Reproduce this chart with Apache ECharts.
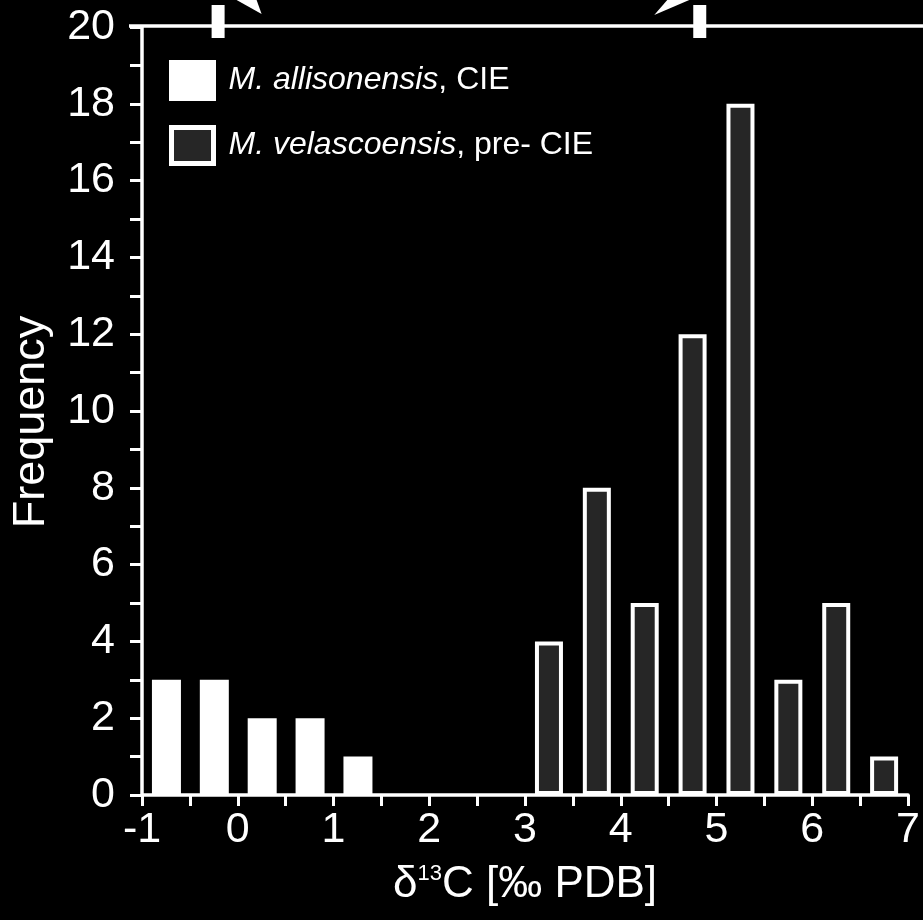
<!DOCTYPE html>
<html>
<head>
<meta charset="utf-8">
<script src="https://cdn.jsdelivr.net/npm/echarts@6/dist/echarts.min.js"></script>
<style>
html,body{margin:0;padding:0;background:#000;}
#main{width:923px;height:920px;}
</style>
</head>
<body>
<div id="main"></div>
<script>
// Data
const allisonX = [-0.75, -0.25, 0.25, 0.75, 1.25];
const allisonFreq = [3, 3, 2, 2, 1];
const velasX = [3.25, 3.75, 4.25, 4.75, 5.25, 5.75, 6.25, 6.75];
const velasFreq = [4, 8, 5, 12, 18, 3, 5, 1];
const seriesNames = ['M. allisonensis, CIE', 'M. velascoensis, pre- CIE'];
const legendItalic = ['M. allisonensis', 'M. velascoensis'];
const legendRest = [', CIE', ', pre- CIE'];
const markerX = [-0.2, 4.83];
const xMin = -1, xMax = 7, yMin = 0, yMax = 20;

const FONT = 'Liberation Sans, Arial, sans-serif';
const chart = echarts.init(document.getElementById('main'), null, {renderer: 'canvas'});

const option = {
  backgroundColor: '#000',
  animation: false,
  grid: {left: 142, right: 14, top: 27, bottom: 125, containLabel: false},
  legend: {
    left: 164, top: 55, orient: 'vertical',
    icon: 'rect',
    itemWidth: 42, itemHeight: 36, itemGap: 24,
    itemStyle: {borderWidth: 5},
    data: seriesNames,
    formatter: function (name) {
      const i = seriesNames.indexOf(name);
      return '{i|' + legendItalic[i] + '}{n|' + legendRest[i] + '}';
    },
    textStyle: {
      color: '#fff', fontFamily: FONT, fontSize: 32, padding: [0, 0, 0, 10],
      rich: {
        i: {fontStyle: 'italic', fontSize: 32, color: '#fff', fontFamily: FONT},
        n: {fontSize: 32, color: '#fff', fontFamily: FONT}
      }
    }
  },
  xAxis: {
    type: 'value', min: xMin, max: xMax, interval: 1,
    name: '{d|δ}{s|13}{n|C [‰ PDB]}',
    nameLocation: 'middle', nameGap: 68,
    nameTextStyle: {
      color: '#fff', fontFamily: FONT, fontSize: 44,
      rich: {
        d: {fontSize: 44, color: '#fff', fontFamily: FONT},
        s: {fontSize: 22, color: '#fff', fontFamily: FONT, verticalAlign: 'top', padding: [0, 0, 20, 0]},
        n: {fontSize: 44, color: '#fff', fontFamily: FONT}
      }
    },
    axisLine: {show: true, onZero: false, lineStyle: {color: '#fff', width: 3.5}},
    axisTick: {show: true, inside: false, length: 11, lineStyle: {color: '#fff', width: 3}},
    minorTick: {show: true, splitNumber: 2, length: 11, lineStyle: {color: '#fff', width: 3}},
    splitLine: {show: false},
    axisLabel: {color: '#fff', fontFamily: FONT, fontSize: 43, margin: 14}
  },
  yAxis: {
    type: 'value', min: yMin, max: yMax, interval: 2,
    name: 'Frequency', nameLocation: 'middle', nameGap: 88,
    nameTextStyle: {color: '#fff', fontFamily: FONT, fontSize: 45, padding: [0, 22, 0, 0]},
    axisLine: {show: true, onZero: false, lineStyle: {color: '#fff', width: 3.5}},
    axisTick: {show: true, inside: false, length: 12, lineStyle: {color: '#fff', width: 3}},
    minorTick: {show: true, splitNumber: 2, length: 12, lineStyle: {color: '#fff', width: 3}},
    splitLine: {show: false},
    axisLabel: {color: '#fff', fontFamily: FONT, fontSize: 43, margin: 27}
  },
  series: [
    {
      name: seriesNames[0], type: 'bar', barWidth: 29, barGap: '-100%',
      itemStyle: {color: '#fff', borderColor: '#fff', borderWidth: 0},
      data: allisonX.map((x, i) => [x, allisonFreq[i]])
    },
    {
      name: seriesNames[1], type: 'bar', barWidth: 28, barGap: '-100%',
      itemStyle: {color: '#262626', borderColor: '#fff', borderWidth: 4},
      data: velasX.map((x, i) => [x, velasFreq[i]])
    }
  ]
};
chart.setOption(option);

// Decorations from the larger figure (top line, markers, arrowheads)
const yTop = chart.convertToPixel({yAxisIndex: 0}, yMax);
const xLeft = chart.convertToPixel({xAxisIndex: 0}, xMin);
const g = [{
  type: 'line', shape: {x1: xLeft - 13, y1: yTop - 1, x2: 923, y2: yTop - 1},
  style: {stroke: '#fff', lineWidth: 3.5}
}];
markerX.forEach((mx, k) => {
  const px = chart.convertToPixel({xAxisIndex: 0}, mx);
  g.push({type: 'rect', shape: {x: px - 7, y: yTop - 22, width: 13, height: 33}, style: {fill: '#fff'}});
  if (k === 0) {
    g.push({type: 'polygon', shape: {points: [[px + 18, yTop - 27], [px + 38, yTop - 27], [px + 43, yTop - 13]]}, style: {fill: '#fff'}});
  } else {
    g.push({type: 'polygon', shape: {points: [[px - 46, yTop - 12], [px - 33, yTop - 27], [px - 11, yTop - 27]]}, style: {fill: '#fff'}});
  }
});
chart.setOption({graphic: g});
</script>
</body>
</html>
